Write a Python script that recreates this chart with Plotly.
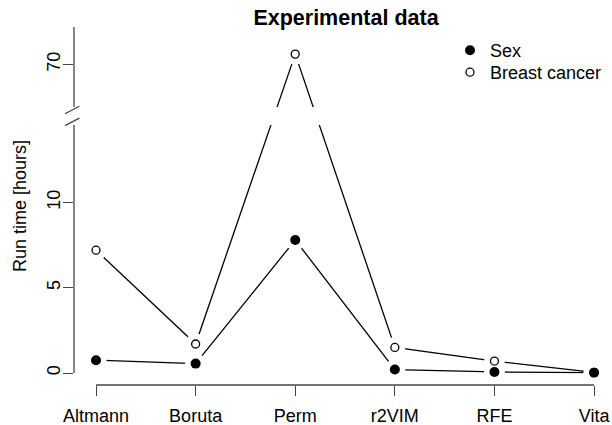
"""Broken-axis line chart: run time of feature selection methods."""

import plotly.graph_objects as go

methods = ["Altmann", "Boruta", "Perm", "r2VIM", "RFE", "Vita"]
sex_hours = [0.75, 0.55, 7.8, 0.2, 0.06, 0.02]
bc_hours = [7.2, 1.7, 70.6, 1.5, 0.7, 0.04]
ytick_values = [0, 5, 10, 70]

# axis break: values between GAP_LO and GAP_HI are cut out
GAP_LO, GAP_HI, GAP_SIZE = 14.55, 67.5, 1.05

FONT = "Liberation Sans, Arial, Helvetica, sans-serif"
X_RANGE = [0.779, 6.18]
Y_RANGE = [-0.704, 20.29]


def squeeze(v):
    """Map a raw value onto the broken axis."""
    return v if v <= GAP_LO else v - GAP_HI + GAP_LO + GAP_SIZE


def py(t):
    return (t - Y_RANGE[0]) / (Y_RANGE[1] - Y_RANGE[0])


def px_(x):
    return (x - X_RANGE[0]) / (X_RANGE[1] - X_RANGE[0])


xs = list(range(1, len(methods) + 1))
sex_t = [squeeze(v) for v in sex_hours]
bc_t = [squeeze(v) for v in bc_hours]

fig = go.Figure()
line = dict(color="black", width=1.3)
fig.add_trace(go.Scatter(x=xs, y=sex_t, mode="lines", line=line, showlegend=False, hoverinfo="skip"))
fig.add_trace(go.Scatter(x=xs, y=bc_t, mode="lines", line=line, showlegend=False, hoverinfo="skip"))
# white halos give the R type="b" gaps around points
fig.add_trace(go.Scatter(
    x=xs + xs, y=sex_t + bc_t, mode="markers",
    marker=dict(size=21, color="white"), showlegend=False, hoverinfo="skip",
))
fig.add_trace(go.Scatter(
    x=xs, y=bc_t, mode="markers", name="Breast cancer", legend="legend2",
    marker=dict(size=8, color="white", line=dict(color="black", width=1.3)),
))
fig.add_trace(go.Scatter(
    x=xs, y=sex_t, mode="markers", name="Sex", legend="legend",
    marker=dict(size=10, color="black", line=dict(width=0)),
))

shapes = [
    # hide lines inside the break band
    dict(type="rect", xref="paper", yref="y", x0=0, x1=1, y0=GAP_LO, y1=GAP_LO + GAP_SIZE,
         fillcolor="white", line=dict(width=0), layer="above"),
    # y axis line (two pieces)
    dict(type="line", xref="paper", yref="paper", x0=0, x1=0, y0=py(0), y1=py(GAP_LO),
         line=dict(color="#444", width=1.3)),
    dict(type="line", xref="paper", yref="paper", x0=0, x1=0, y0=py(GAP_LO + GAP_SIZE), y1=1,
         line=dict(color="#444", width=1.3)),
    # x axis line
    dict(type="line", xref="paper", yref="paper", x0=px_(1), x1=px_(len(methods)), y0=0, y1=0,
         line=dict(color="#444", width=1.3)),
]
# break marks "//"
for off in (-0.35, 0.35):
    mid = GAP_LO + GAP_SIZE / 2 + off
    shapes.append(dict(
        type="line", xref="paper", yref="paper",
        x0=-9 / 538, x1=9 / 538 * 0.6, y0=py(mid - 0.22), y1=py(mid + 0.22),
        line=dict(color="#444", width=1.3),
    ))

legend_style = dict(xanchor="left", yanchor="top", bgcolor="rgba(0,0,0,0)", font=dict(size=18))

fig.update_layout(
    width=612,
    height=425,
    margin=dict(l=74, r=0, t=27, b=40),
    plot_bgcolor="white",
    paper_bgcolor="white",
    font=dict(family=FONT, size=18, color="black"),
    title=dict(
        text="<b>Experimental data</b>", x=346 / 612, y=1 - 17 / 425,
        xanchor="center", yanchor="middle", font=dict(size=21.5, family=FONT),
    ),
    xaxis=dict(
        range=X_RANGE, tickvals=xs, ticktext=methods, showgrid=False, zeroline=False,
        showline=False, ticks="outside", ticklen=10, tickwidth=1.3, tickcolor="#444",
        ticklabelstandoff=4,
    ),
    yaxis=dict(
        range=Y_RANGE, tickvals=[squeeze(v) for v in ytick_values],
        ticktext=[str(v) for v in ytick_values], tickangle=-90, showgrid=False,
        zeroline=False, showline=False, ticks="outside", ticklen=10, tickwidth=1.3,
        tickcolor="#444", ticklabelstandoff=-4,
    ),
    legend=dict(x=(450 - 74) / 538, y=1 - (32 - 27) / 358, **legend_style),
    legend2=dict(x=(450 - 74) / 538, y=1 - (54 - 27) / 358, **legend_style),
    annotations=[dict(
        text="Run time [hours]", xref="paper", yref="paper", x=(20 - 74) / 538, y=0.5,
        textangle=-90, showarrow=False, xanchor="center", yanchor="middle",
        font=dict(size=18),
    )],
    shapes=shapes,
)

fig.write_html(
    "out.html",
    config={"displayModeBar": False},
    post_script="document.body.style.margin = '0px';",
)
